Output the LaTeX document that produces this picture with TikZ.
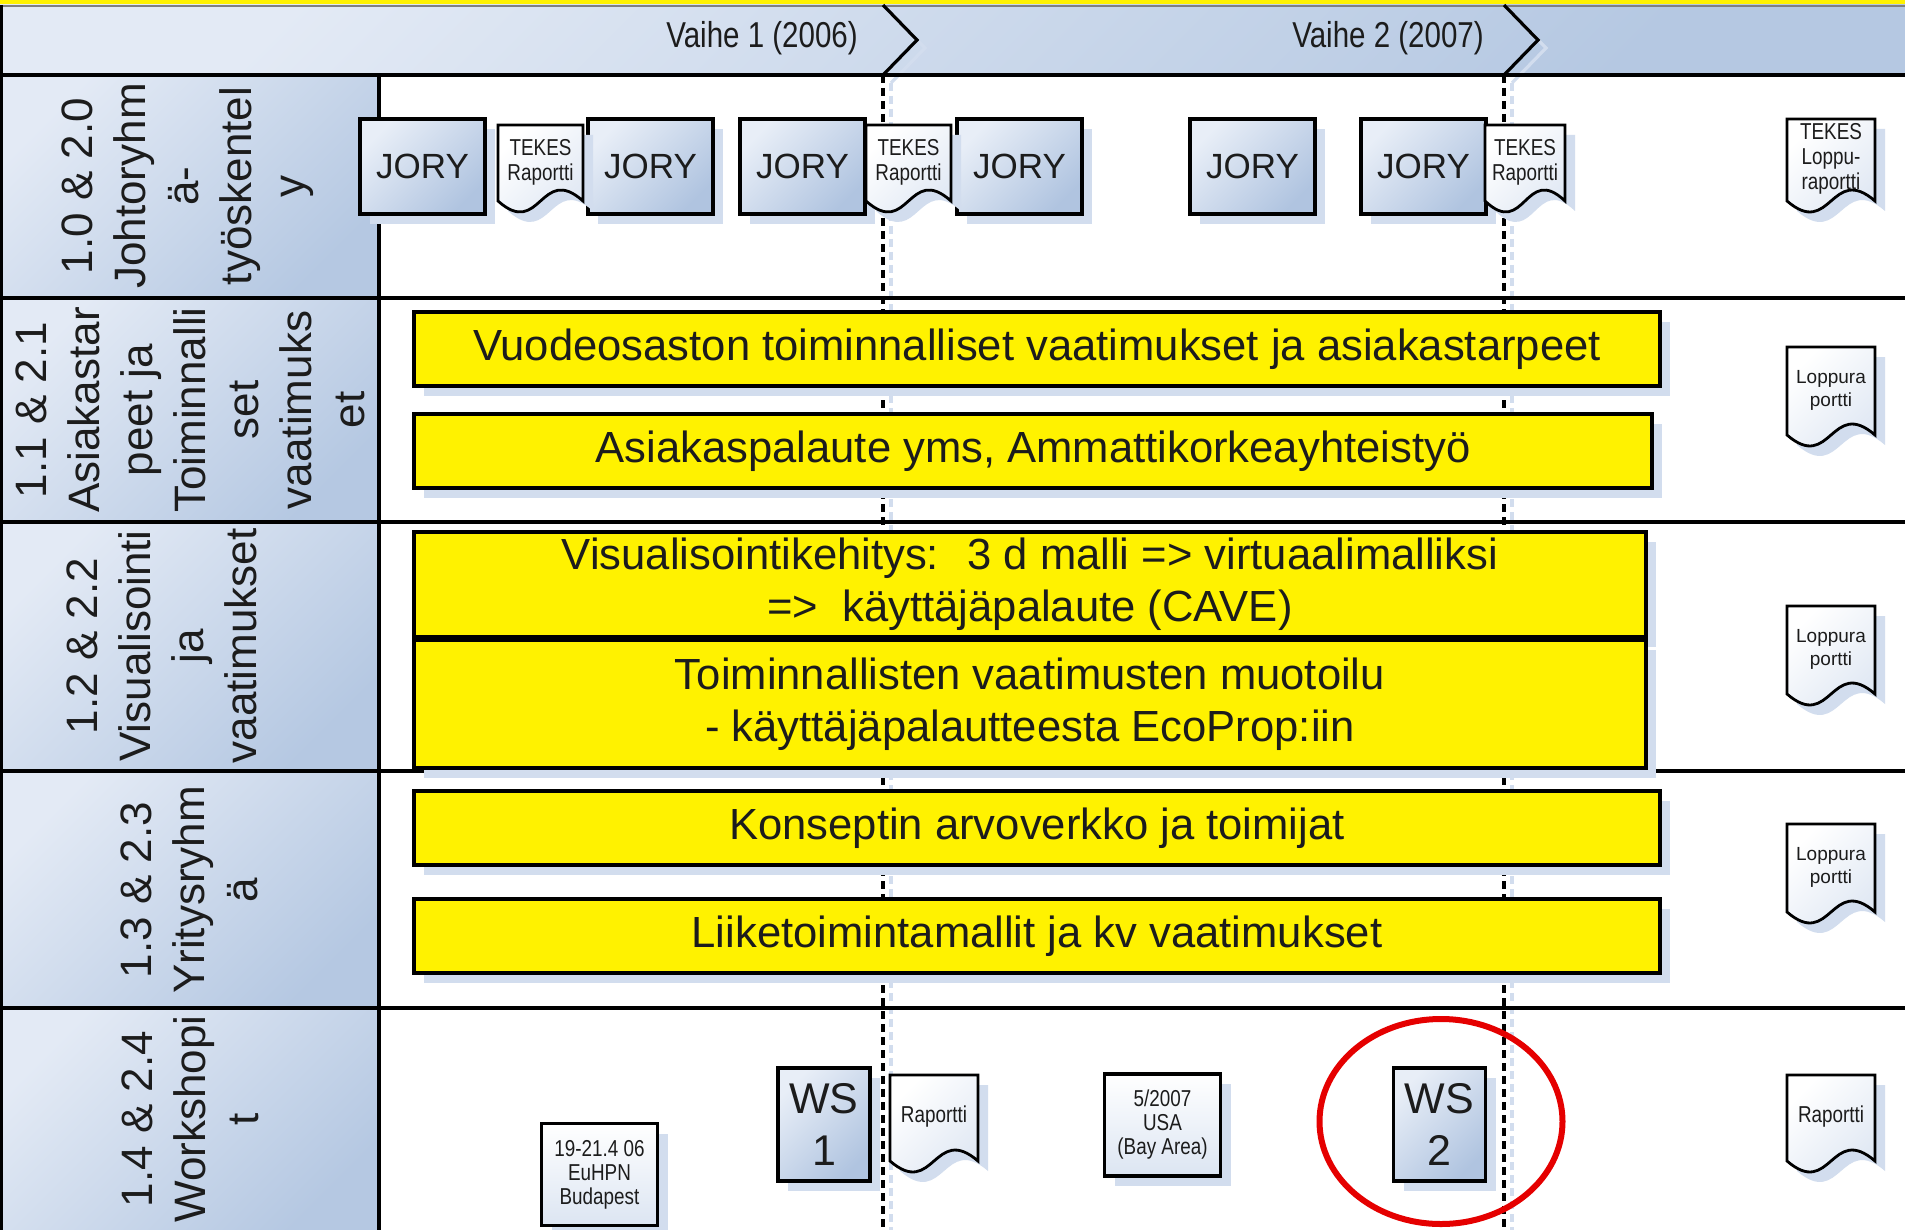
\documentclass[tikz,border=0pt]{standalone}
\usepackage{fontspec}
\setmainfont{Liberation Sans}
\newfontfamily\narrowfont[FakeStretch=0.82]{Liberation Sans}
\usepackage{tikz}
\usetikzlibrary{shadows,shapes.geometric}

\definecolor{hdrlight}{HTML}{E3EAF5}
\definecolor{hdrdark}{HTML}{B5C8E2}
\definecolor{boxlight}{HTML}{E8EEF7}
\definecolor{boxdark}{HTML}{B0C4E0}
\definecolor{docblue}{HTML}{DCE5F2}
\definecolor{shadowblue}{HTML}{D2DDEE}
\definecolor{inktext}{HTML}{1C1C1C}
\definecolor{hilitered}{HTML}{E50000}

\newcommand{\docsheet}[7][]{%
	\draw[sheet, shift={(#3,#4)}] (-#5/2,0) -- (#5/2,0) -- (#5/2,#6) .. controls (0,#6-38) and (0,#6+38) .. (-#5/2,#6) -- cycle;
	\node[doctext, #1] (#2) at (#3,#4+#6/2-1) {#7};}

\begin{document}
\begin{tikzpicture}[x=0.5pt, y=-0.5pt,
	every node/.style={text=inktext},
	cellfill/.style={top color=hdrlight, bottom color=hdrdark, shading angle=45},
	rowline/.style={line width=2pt},
	phaseline/.style={line width=1.6pt, dash pattern=on 4pt off 2.5pt},
	blueshadow/.style={drop shadow={shadow xshift=5pt, shadow yshift=-5pt, fill=shadowblue, opacity=1}},
	bluebox/.style={draw=black, line width=1.6pt, top color=boxlight, bottom color=boxdark, shading angle=45, blueshadow, inner sep=0pt, align=center},
	jorybox/.style={bluebox, minimum width=62.5pt, minimum height=47.5pt, font=\fontsize{17.5}{21}\selectfont},
	wsbox/.style={bluebox, minimum width=46pt, minimum height=56.5pt, font=\fontsize{21.5}{26}\selectfont},
	notebox/.style={bluebox, top color=white, bottom color=docblue, minimum width=58pt, minimum height=51pt, font=\narrowfont\fontsize{11.5}{12}\selectfont},
	taskbar/.style={draw=black, line width=1.6pt, fill=yellow, blueshadow, inner sep=0pt, align=center, font=\fontsize{21.8}{26}\selectfont},
	sheet/.style={draw=black, line width=1.4pt, top color=white, bottom color=docblue, shading angle=45, blueshadow},
	doctext/.style={align=center, inner sep=0pt, font=\narrowfont\fontsize{11.5}{12.5}\selectfont},
	lopptext/.style={font=\fontsize{9.5}{11.5}\selectfont},
	lanetext/.style={rotate=90, align=center, inner sep=0pt, font=\fontsize{22}{26.5}\selectfont},
	phasetext/.style={font=\narrowfont\fontsize{18}{21}\selectfont}]
	\fill[white] (0,0) rectangle (1905,1230);
	\useasboundingbox (0,0) rectangle (1905,1230);
	\fill[yellow] (0,0) rectangle (1905,5);
	\shade[cellfill] (0,5) rectangle (1905,75);
	\draw[gray, line width=0.6pt] (0,6) -- (1905,6);
	\foreach \x in {883,1504} {
		\draw[shadowblue, line width=1.6pt] (\x+8,13) -- (\x+42,48) -- (\x+8,83);
		\draw[line width=1.6pt] (\x,5) -- (\x+34,40) -- (\x,75);
	}
	\node[phasetext] (vaihe1) at (762,38) {Vaihe 1 (2006)};
	\node[phasetext] (vaihe2) at (1388,38) {Vaihe 2 (2007)};
	\foreach \a/\b in {75/298, 298/522, 522/771, 771/1008, 1008/1230}
		\shade[cellfill] (0,\a) rectangle (379,\b);
	\foreach \x in {883,1504} {
		\draw[phaseline, shadowblue] (\x+8,83) -- (\x+8,1230);
		\draw[phaseline] (\x,75) -- (\x,1230);
	}
	\foreach \y in {75,298,522,771,1008}
		\draw[rowline] (0,\y) -- (1905,\y);
	\draw[rowline] (379,75) -- (379,1230);
	\draw[rowline] (1,5) -- (1,1230);
	\node[lanetext] (lane1) at (188,186) {1.0 \& 2.0\\Johtoryhm\\ä-\\työskentel\\y};
	\node[lanetext] (lane2) at (190,410) {1.1 \& 2.1\\Asiakastar\\peet ja\\Toiminnalli\\set\\vaatimuks\\et};
	\node[lanetext] (lane3) at (162,646) {1.2 \& 2.2\\Visualisointi\\ja\\vaatimukset};
	\node[lanetext] (lane4) at (189,890) {1.3 \& 2.3\\Yritysryhm\\ä};
	\node[lanetext] (lane5) at (190,1119) {1.4 \& 2.4\\Workshopi\\t};
	\node[taskbar, minimum width=623pt, minimum height=37pt] (needs) at (1037,349) {Vuodeosaston toiminnalliset vaatimukset ja asiakastarpeet};
	\node[taskbar, minimum width=619pt, minimum height=37pt] (feedback) at (1033,451) {Asiakaspalaute yms, Ammattikorkeayhteistyö};
	\node[taskbar, minimum width=616pt, minimum height=52.5pt] (visual) at (1030,584.5) {Visualisointikehitys:~ 3 d malli => virtuaalimalliksi\\=>~ käyttäjäpalaute (CAVE)};
	\node[taskbar, minimum width=616pt, minimum height=64pt] (shaping) at (1030,704) {Toiminnallisten vaatimusten muotoilu\\- käyttäjäpalautteesta EcoProp:iin};
	\node[taskbar, minimum width=623pt, minimum height=37pt] (network) at (1037,828) {Konseptin arvoverkko ja toimijat};
	\node[taskbar, minimum width=623pt, minimum height=37pt] (business) at (1037,936) {Liiketoimintamallit ja kv vaatimukset};
	\foreach \x [count=\i] in {422.5,650.5,802.5,1019.5,1252.5,1423.5}
		\node[jorybox] (jory\i) at (\x,166.5) {JORY};
	\docsheet{tekes1}{540.5}{125}{85}{76}{TEKES\\Raportti}
	\docsheet{tekes2}{908.5}{125}{85}{76}{TEKES\\Raportti}
	\docsheet{tekes3}{1525}{125}{80}{76}{TEKES\\Raportti}
	\docsheet{tekesend}{1831}{119}{88}{82}{TEKES\\Loppu-\\raportti}
	\docsheet[lopptext]{lopp2}{1831}{347}{88}{88}{Loppura\\portti}
	\docsheet[lopptext]{lopp3}{1831}{606}{88}{88}{Loppura\\portti}
	\docsheet[lopptext]{lopp4}{1831}{824}{88}{88}{Loppura\\portti}
	\docsheet{ws1rep}{934}{1075}{88}{86}{Raportti}
	\docsheet{finalrep}{1831}{1075}{88}{86}{Raportti}
	\node[notebox] (euhpn) at (599.5,1174.5) {19-21.4 06\\EuHPN\\Budapest};
	\node[wsbox] (ws1) at (824,1124.5) {WS\\1};
	\node[notebox] (usa) at (1162.5,1125) {5/2007\\USA\\(Bay Area)};
	\node[wsbox] (ws2) at (1439.5,1124.5) {WS\\2};
	\node[draw=hilitered, line width=3pt, ellipse, inner sep=0pt, minimum width=121.5pt, minimum height=102.5pt] (hilite) at (1441,1121.5) {};
\end{tikzpicture}
\end{document}
